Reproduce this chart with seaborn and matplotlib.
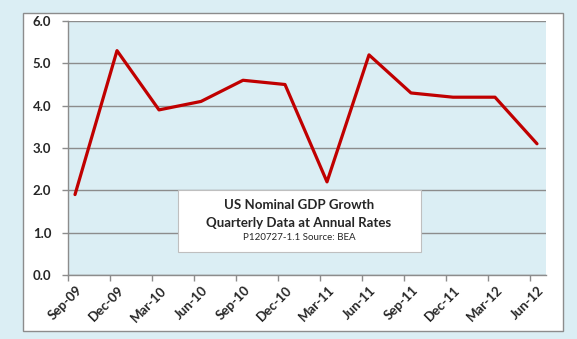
import matplotlib
matplotlib.use("Agg")
import matplotlib.pyplot as plt
import matplotlib.transforms as mtransforms
import seaborn as sns
import pandas as pd
import numpy as np
from matplotlib.patches import Rectangle

quarters = ["Sep-09", "Dec-09", "Mar-10", "Jun-10", "Sep-10", "Dec-10",
            "Mar-11", "Jun-11", "Sep-11", "Dec-11", "Mar-12", "Jun-12"]
growth = [1.9, 5.3, 3.9, 4.1, 4.6, 4.5, 2.2, 5.2, 4.3, 4.2, 4.2, 3.1]
yticks = [0.0, 1.0, 2.0, 3.0, 4.0, 5.0, 6.0]

sns.set_theme(style="white")
plt.rcParams['font.family'] = ['Lato', 'DejaVu Sans']

W, H = 577, 339
bg = "#DBEEF4"
fig = plt.figure(figsize=(W / 100, H / 100), dpi=100)
fig.patch.set_facecolor(bg)

# white chart area
fig.patches.append(Rectangle((23 / W, 1 - 331 / H), (563 - 23) / W, (331 - 13) / H,
                             transform=fig.transFigure, facecolor="white",
                             edgecolor="#8C8C8C", linewidth=1.0, zorder=-5))

ax = fig.add_axes([68 / W, 1 - 275 / H, (546 - 68) / W, (275 - 21) / H])
ax.set_facecolor(bg)

df = pd.DataFrame({"x": np.arange(len(quarters)), "growth": growth})
sns.lineplot(data=df, x="x", y="growth", ax=ax, color="#C00000", linewidth=2.3, zorder=3)

off = 7 / 42
ax.set_xlim(-off, len(quarters) - 1 + 9 / 42)
ax.set_ylim(0, 6)
ax.set_yticks(yticks)
ax.set_yticklabels([f"{v:.1f}" for v in yticks], fontsize=9.5, fontweight="bold")
tick_pos = np.arange(len(quarters)) - off
ax.set_xticks(tick_pos)
ax.set_xticklabels([])
shift = mtransforms.ScaledTranslation(8 / 100, -9 / 100, fig.dpi_scale_trans)
for xp, lab in zip(tick_pos, quarters):
    ax.text(xp, 0, lab, rotation=45, ha="right", va="top", rotation_mode="anchor",
            fontsize=9.5, fontweight="bold", color="#262626",
            transform=ax.get_xaxis_transform() + shift, clip_on=False)
ax.tick_params(axis="both", direction="out", length=4, color="#8C8C8C", width=1,
               bottom=True, left=True, pad=3)
ax.tick_params(axis="y", pad=8)
ax.set_xlabel("")
ax.set_ylabel("")
ax.grid(axis="y", color="#8C8C8C", linewidth=1.0)
ax.set_axisbelow(True)
for s in ["top", "right"]:
    ax.spines[s].set_visible(False)
for s in ["left", "bottom"]:
    ax.spines[s].set_color("#8C8C8C")
    ax.spines[s].set_linewidth(1.0)

# text box
fig.patches.append(Rectangle((178 / W, 1 - 252 / H), (421 - 178) / W, (252 - 190) / H,
                             transform=fig.transFigure, facecolor="white",
                             edgecolor="#BFBFBF", linewidth=0.8, zorder=5))
cx = 299 / W
fig.text(cx, 1 - 205 / H, "US Nominal GDP Growth", ha="center", va="center",
         fontsize=9.5, fontweight="bold", zorder=6)
fig.text(cx, 1 - 223 / H, "Quarterly Data at Annual Rates", ha="center", va="center",
         fontsize=9.5, fontweight="bold", zorder=6)
fig.text(cx, 1 - 237.5 / H, "P120727-1.1 Source: BEA", ha="center", va="center",
         fontsize=7, zorder=6)

fig.savefig("out.png", dpi=100, facecolor=fig.get_facecolor())
